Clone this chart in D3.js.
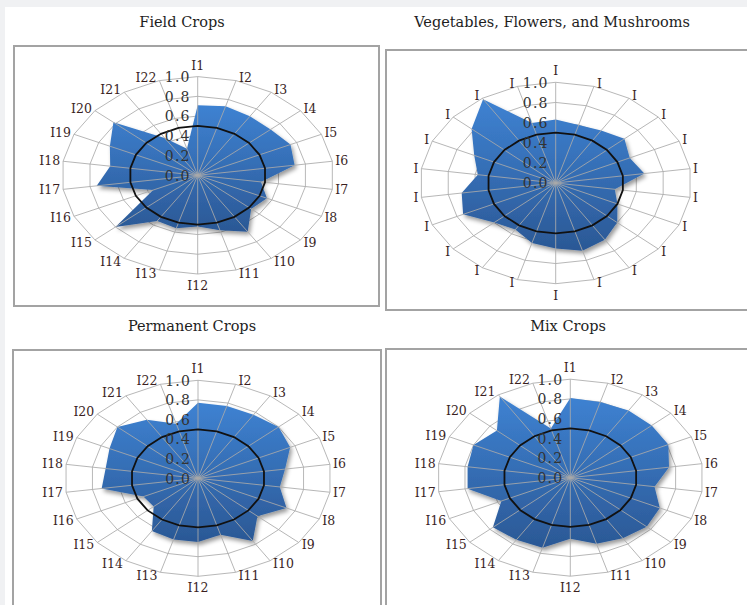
<!DOCTYPE html>
<html lang="en">
<head>
    <meta charset="utf-8">
    <title>Radar charts by crop type</title>
    <style>
        body {
            margin: 0;
            background: #f0f1f3;
        }
        svg {
            display: block;
        }
        .title {
            font-family: "DejaVu Serif", serif;
            font-size: 14.5px;
            fill: #1e1e1e;
        }
        .ax-label {
            font-family: "DejaVu Serif", serif;
            font-size: 12.5px;
            fill: #3a1f1f;
        }
        .tick-label {
            font-family: "DejaVu Serif", serif;
            font-size: 14px;
            letter-spacing: 1.2px;
            fill: #333;
        }
        .ring {
            fill: none;
            stroke: #b8b8b8;
            stroke-width: 1;
        }
        .spoke {
            stroke: #a9a9a9;
            stroke-width: 1;
        }
        .frame {
            fill: none;
            stroke: #a3a3a3;
            stroke-width: 2;
        }
    </style>
</head>

<body>
    <script src="https://cdn.jsdelivr.net/npm/d3@7"></script>
    <script>
        // indicator names (axes of every radar)
        const indicators = ["I1", "I2", "I3", "I4", "I5", "I6", "I7", "I8", "I9", "I10", "I11",
            "I12", "I13", "I14", "I15", "I16", "I17", "I18", "I19", "I20", "I21", "I22"];
        // the vegetables chart shows its axis names cut to the first letter
        const vegLabels = indicators.map(d => "I");

        const radialTicks = [0.0, 0.2, 0.4, 0.6, 0.8, 1.0];
        const threshold = 0.5;

        // values
        const fieldCrops = [0.71, 0.73, 0.71, 0.71, 0.75, 0.72, 0.47, 0.56, 0.52, 0.68, 0.58,
            0.52, 0.56, 0.55, 0.80, 0.36, 0.75, 0.65, 0.71, 0.82, 0.45, 0.28];
        const vegFlowersMushrooms = [0.63, 0.60, 0.62, 0.67, 0.60, 0.66, 0.44, 0.50, 0.60, 0.67, 0.70,
            0.65, 0.62, 0.55, 0.60, 0.75, 0.70, 0.58, 0.66, 0.82, 0.99, 0.62];
        const permanentCrops = [0.77, 0.77, 0.77, 0.80, 0.76, 0.66, 0.62, 0.73, 0.59, 0.76, 0.60,
            0.65, 0.65, 0.64, 0.44, 0.45, 0.73, 0.70, 0.73, 0.80, 0.71, 0.58];
        const mixCrops = [0.81, 0.80, 0.81, 0.81, 0.81, 0.75, 0.64, 0.74, 0.76, 0.73, 0.70,
            0.62, 0.74, 0.75, 0.77, 0.57, 0.78, 0.78, 0.80, 0.73, 0.98, 0.52];

        const width = 747,
            height = 605;

        const panels = [
            { title: "Field Crops", values: fieldCrops, labels: indicators,
              tx: 182, ty: 27, frame: [14, 46, 365, 260], cx: 197.7, cy: 175.3, rx: 136, ry: 98.7 },
            { title: "Vegetables, Flowers, and Mushrooms", values: vegFlowersMushrooms, labels: vegLabels,
              tx: 552, ty: 27, frame: [386, 50, 380, 260], cx: 555.7, cy: 183, rx: 135.7, ry: 100.7 },
            { title: "Permanent Crops", values: permanentCrops, labels: indicators,
              tx: 192, ty: 331, frame: [13, 350, 368, 300], cx: 198, cy: 478.3, rx: 133.3, ry: 98 },
            { title: "Mix Crops", values: mixCrops, labels: indicators,
              tx: 568, ty: 331, frame: [386, 349, 380, 300], cx: 570.3, cy: 477.7, rx: 133, ry: 98.5 }
        ];

        const svg = d3.select("body").append("svg")
            .attr("width", width)
            .attr("height", height);

        const defs = svg.append("defs");
        const grad = defs.append("linearGradient")
            .attr("id", "blueFill")
            .attr("x1", 0).attr("y1", 0).attr("x2", 0).attr("y2", 1);
        grad.append("stop").attr("offset", "0%").attr("stop-color", "#3e82d2");
        grad.append("stop").attr("offset", "100%").attr("stop-color", "#2b5895");

        const shadow = defs.append("filter")
            .attr("id", "shadow")
            .attr("x", "-20%").attr("y", "-20%").attr("width", "140%").attr("height", "140%");
        shadow.append("feDropShadow")
            .attr("dx", 2).attr("dy", 3)
            .attr("stdDeviation", 2.2)
            .attr("flood-color", "#000")
            .attr("flood-opacity", 0.4);

        // white page
        svg.append("rect")
            .attr("x", 5).attr("y", 7)
            .attr("width", width).attr("height", height)
            .attr("fill", "#fff");

        const angle = d3.scaleBand()
            .domain(indicators)
            .range([0, 2 * Math.PI]);

        panels.forEach(p => {
            const g = svg.append("g");

            g.append("text")
                .attr("class", "title")
                .attr("x", p.tx).attr("y", p.ty)
                .attr("text-anchor", "middle")
                .text(p.title);

            g.append("rect")
                .attr("class", "frame")
                .attr("x", p.frame[0]).attr("y", p.frame[1])
                .attr("width", p.frame[2]).attr("height", p.frame[3]);

            // the picture is stretched sideways, so x and y radii differ
            const rX = d3.scaleLinear().domain([0, 1]).range([0, p.rx]);
            const rY = d3.scaleLinear().domain([0, 1]).range([0, p.ry]);
            const pt = (name, v) => {
                const a = angle(name);
                return [p.cx + rX(v) * Math.sin(a), p.cy - rY(v) * Math.cos(a)];
            };
            const closed = d3.line().curve(d3.curveLinearClosed);

            // gridline rings
            g.selectAll(".ring")
                .data(radialTicks.filter(t => t > 0))
                .join("path")
                    .attr("class", "ring")
                    .attr("d", t => closed(indicators.map(n => pt(n, t))));

            // series area
            g.append("path")
                .attr("d", closed(indicators.map((n, i) => pt(n, p.values[i]))))
                .attr("fill", "url(#blueFill)")
                .attr("filter", "url(#shadow)");

            // spokes
            g.selectAll(".spoke")
                .data(indicators)
                .join("line")
                    .attr("class", "spoke")
                    .attr("x1", p.cx).attr("y1", p.cy)
                    .attr("x2", n => pt(n, 1)[0])
                    .attr("y2", n => pt(n, 1)[1])
                    .attr("stroke-opacity", 0.85);

            // 0.5 reference line
            g.append("path")
                .attr("d", closed(indicators.map(n => pt(n, threshold))))
                .attr("fill", "none")
                .attr("stroke", "#111")
                .attr("stroke-width", 1.8);

            // radial tick labels along the first axis
            g.selectAll(".tick-label")
                .data(radialTicks)
                .join("text")
                    .attr("class", "tick-label")
                    .attr("x", p.cx - 7)
                    .attr("y", t => p.cy - rY(t))
                    .attr("dy", "0.38em")
                    .attr("text-anchor", "end")
                    .text(d3.format(".1f"));

            // axis names
            g.selectAll(".ax-label")
                .data(indicators)
                .join("text")
                    .attr("class", "ax-label")
                    .each(function (n, i) {
                        const a = angle(n);
                        const s = Math.sin(a), c = Math.cos(a);
                        const [x, y] = pt(n, 1);
                        const side = Math.abs(s) < 0.1 ? 0 : Math.sign(s);
                        d3.select(this)
                            .attr("x", x + side * 3)
                            .attr("y", side === 0 ? y - c * 11.5 : y - c * 3.5)
                            .attr("dy", "0.36em")
                            .attr("text-anchor", side === 0 ? "middle" : side > 0 ? "start" : "end")
                            .text(p.labels[i]);
                    });
        });
    </script>
</body>

</html>
